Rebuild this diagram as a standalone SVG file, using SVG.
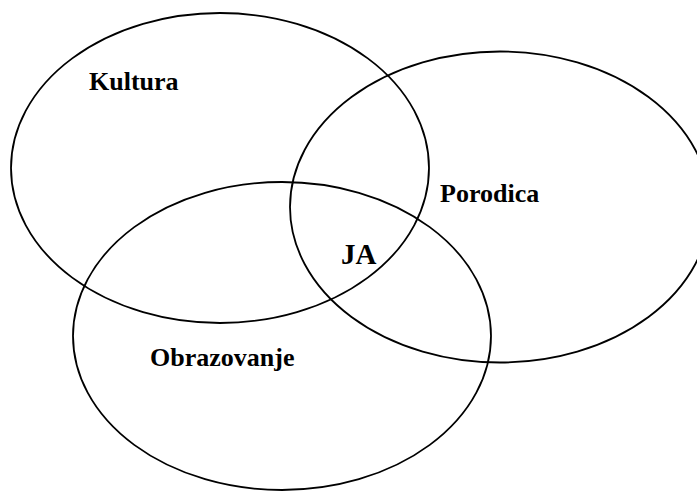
<svg xmlns="http://www.w3.org/2000/svg" width="697" height="491" viewBox="0 0 697 491">
<style>
.c{fill:none;stroke:#000;stroke-width:1.8}
.t{font-family:"Liberation Serif","Times New Roman",serif;font-weight:bold;font-size:26px;fill:#000}
</style>
<rect width="697" height="491" fill="#fff"/>
<g id="kultura"><ellipse class="c" cx="220" cy="168" rx="209" ry="155"/><text class="t" x="89" y="90">Kultura</text></g>
<g id="porodica"><ellipse class="c" cx="500" cy="207" rx="210" ry="155.5"/><text class="t" x="440" y="202">Porodica</text></g>
<g id="obrazovanje"><ellipse class="c" cx="282" cy="336" rx="209" ry="154"/><text class="t" x="150" y="366">Obrazovanje</text></g>
<g id="ja"><text class="t" x="341" y="264" style="font-size:29px">JA</text></g>
<g id="connectors"></g>
</svg>
